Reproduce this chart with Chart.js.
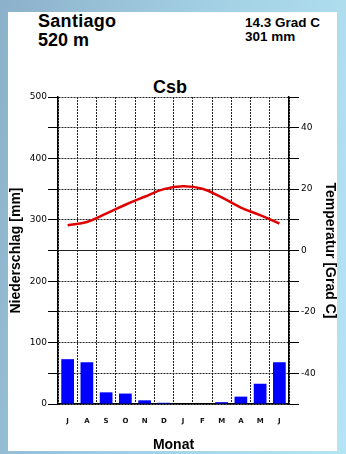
<!DOCTYPE html>
<html>
<head>
<meta charset="utf-8">
<script src="https://cdn.jsdelivr.net/npm/chart.js@4"></script>
<style>
  html, body { margin: 0; padding: 0; }
  body {
    width: 346px; height: 454px; overflow: hidden; position: relative;
    background: linear-gradient(100deg, #8cb1ca 0%, #a3d0e4 50%, #b5e5f4 100%);
    font-family: "Liberation Sans", Arial, sans-serif;
  }
  #panel { position: absolute; left: 8px; top: 12px; width: 329px; height: 439px; background: #fff; }
  .lbl { position: absolute; font-weight: bold; color: #000; white-space: nowrap; }
  #chart { position: absolute; left: 0; top: 0; }
</style>
</head>
<body>
<div id="panel"></div>
<div class="lbl" style="left:38px; top:11.7px; font-size:18px; line-height:18px; letter-spacing:0.3px;">Santiago</div>
<div class="lbl" style="left:38px; top:30.8px; font-size:18px; line-height:18px;">520 m</div>
<div class="lbl" style="left:245px; top:15.6px; font-size:13.5px; line-height:13.5px;">14.3 Grad C</div>
<div class="lbl" style="left:245px; top:29.9px; font-size:13.5px; line-height:13.5px;">301 mm</div>
<div class="lbl" style="left:120px; top:77.8px; width:100px; text-align:center; font-size:18px; line-height:18px;">Csb</div>
<canvas id="chart" width="346" height="454"></canvas>
<script>
const months = ['J', 'A', 'S', 'O', 'N', 'D', 'J', 'F', 'M', 'A', 'M', 'J'];
const precipitation = [73, 68, 19, 17, 6, 2, 0, 0, 3, 12, 33, 68];
const temperature = [8.2, 9.3, 12.0, 14.9, 17.5, 20.0, 20.9, 20.1, 17.3, 14.0, 11.5, 8.8];

const dots = [2, 1];

let ctx = document.getElementById('chart').getContext('2d');
let chart = new Chart(ctx, {
  data: {
    labels: months,
    datasets: [{
      type: 'bar',
      data: precipitation,
      yAxisID: 'y',
      backgroundColor: '#0000ff',
      barPercentage: 0.66,
      categoryPercentage: 1,
      order: 2
    }, {
      type: 'line',
      data: temperature,
      yAxisID: 'y2',
      borderColor: '#e00000',
      borderWidth: 2.5,
      pointRadius: 0,
      tension: 0.4,
      order: 1
    }]
  },
  options: {
    responsive: false,
    animation: false,
    devicePixelRatio: 1,
    layout: { padding: { top: 97, left: 0, right: 0, bottom: 0 } },
    plugins: { legend: { display: false }, tooltip: { enabled: false } },
    scales: {
      x: {
        grid: { offset: true, color: '#222', drawTicks: false },
        border: { display: true, color: '#000', width: 1.5, dash: dots },
        ticks: {
          padding: 13, color: '#111', maxRotation: 0, autoSkip: false,
          font: { family: 'DejaVu Sans', size: 7, weight: 'bold' }
        },
        title: {
          display: true, text: 'Monat', color: '#000', padding: { top: 0, bottom: 0 },
          font: { family: 'Liberation Sans', size: 14, weight: 'bold' }
        },
        afterFit: function (s) { s.height = 50; }
      },
      y: {
        position: 'left',
        min: 0, max: 500,
        grid: { color: '#222', tickLength: 10, tickColor: '#000' },
        border: {
          display: true, color: '#000', width: 1.5,
          dash: function (c) { return c.tick && c.tick.value === 250 ? [] : dots; }
        },
        ticks: {
          stepSize: 50, padding: 1, color: '#000',
          font: { family: 'DejaVu Sans', size: 9 },
          callback: function (v) { return v % 100 === 0 ? v : ''; }
        },
        title: {
          display: true, text: 'Niederschlag [mm]', color: '#000', padding: { top: 7.6, bottom: 0 },
          font: { family: 'Liberation Sans', size: 14, weight: 'bold' }
        },
        afterFit: function (s) { s.width = 58; }
      },
      y2: {
        position: 'right',
        min: -50, max: 50,
        grid: { drawOnChartArea: false, tickLength: 10, color: '#000' },
        border: { display: true, color: '#000', width: 1.5 },
        ticks: {
          stepSize: 10, padding: 2, color: '#000',
          font: { family: 'DejaVu Sans', size: 9 },
          callback: function (v) { return v % 20 === 0 ? v : ''; }
        },
        title: {
          display: true, text: 'Temperatur [Grad C]', color: '#000', padding: { top: 7.6, bottom: 0 },
          font: { family: 'Liberation Sans', size: 14, weight: 'bold' }
        },
        afterFit: function (s) { s.width = 57; }
      }
    }
  }
});
</script>
</body>
</html>
